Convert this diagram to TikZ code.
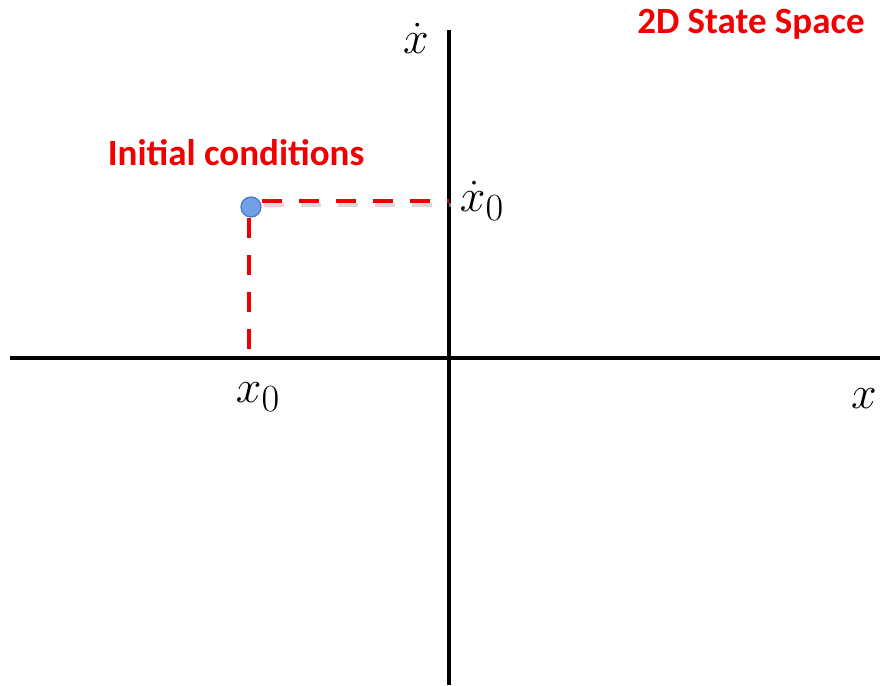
\documentclass[tikz,border=0pt]{standalone}
\usepackage{fontspec}
\newfontfamily\calib{Carlito}
\definecolor{labelred}{RGB}{240,0,0}
\definecolor{dotfill}{RGB}{112,160,230}
\definecolor{dotline}{RGB}{70,120,190}
\tikzset{
  axis/.style={line width=4pt, black},
  guide/.style={line width=4pt, labelred, dash pattern=on 20pt off 17pt},
  guideshadow/.style={line width=4pt, black!25, opacity=0.6, dash pattern=on 20pt off 17pt},
  title/.style={text=labelred, font=\calib\bfseries\fontsize{37}{40}\selectfont, inner sep=0pt},
  mathlabel/.style={font=\Huge, scale=1.85, transform shape, inner sep=0pt},
  state/.style={circle, fill=dotfill, draw=dotline, line width=1.2pt, minimum size=20pt, inner sep=0pt}
}
\begin{document}
\begin{tikzpicture}[x=1pt, y=-1pt]
  \useasboundingbox (0,0) rectangle (880,685);
  % Axes
  \coordinate (xl) at (10,358);
  \coordinate (xr) at (880,358);
  \coordinate (yt) at (449,30);
  \coordinate (yb) at (449,685);
  \draw[axis] (xl) -- (xr);
  \draw[axis] (yt) -- (yb);
  % Initial state
  \node[state] (s0) at (251,207) {};
  \coordinate (px) at (249,358);
  \coordinate (py) at (449,201);
  \draw[guideshadow] ([shift={(2,4)}]s0.east |- py) -- ([shift={(2,4)}]py);
  \draw[guide] (s0.east |- py) -- (py);
  \draw[guide] (s0.south -| px) -- (px);
  % Labels
  \node[mathlabel] (lx) at (864,399) {$x$};
  \node[mathlabel] (ly) at (416,38) {$\dot{x}$};
  \node[mathlabel] (lx0) at (258,397) {$x_0$};
  \node[mathlabel] (ly0) at (482,201) {$\dot{x}_0$};
  \node[title] (init) at (236,153) {Initial conditions};
  \node[title] (head) at (751,24) {2D State Space};
\end{tikzpicture}
\end{document}
